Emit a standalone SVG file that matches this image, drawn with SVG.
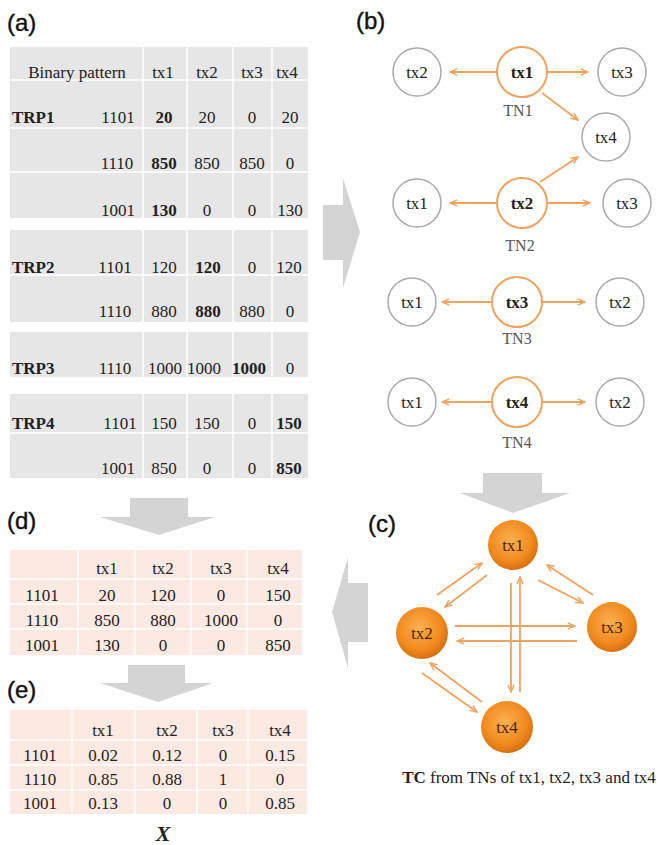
<svg xmlns="http://www.w3.org/2000/svg" width="660" height="845" viewBox="0 0 660 845">
<style>
.lbl{font-family:"Liberation Sans",Arial,sans-serif;font-size:24px;fill:#111;stroke:#111;stroke-width:0.4}
.t{font-family:"Liberation Serif","Times New Roman",serif;font-size:17px;fill:#222;text-anchor:middle}
.tl{font-family:"Liberation Serif","Times New Roman",serif;font-size:17px;fill:#222;font-weight:bold}
.b{font-weight:bold}
.bga{fill:#e6e6e6}
.bgp{fill:#fbe9e2}
.sep{stroke:#fff;stroke-width:1.5}
.garrow{fill:#d4d4d4}
.oc{fill:#fff;stroke:#aaa;stroke-width:1.5}
.cc{fill:#fff;stroke:#f0a35e;stroke-width:2}
.tn{font-family:"Liberation Serif","Times New Roman",serif;font-size:16px;fill:#555;text-anchor:middle}
.con{stroke:#f0a35e;stroke-width:1.8;fill:none;marker-end:url(#ah)}
.fc{fill:url(#og)}
.ft{font-family:"Liberation Serif","Times New Roman",serif;font-size:17px;fill:#4a2608;text-anchor:middle}
</style>
<defs>
<marker id="ah" viewBox="0 0 10 10" refX="9" refY="5" markerWidth="9" markerHeight="9" markerUnits="userSpaceOnUse" orient="auto">
<path d="M1,1.5 L9,5 L1,8.5" fill="none" stroke="#f0a35e" stroke-width="1.6"/>
</marker>
<radialGradient id="og" cx="0.45" cy="0.4" r="0.6">
<stop offset="0" stop-color="#fbb050"/>
<stop offset="0.7" stop-color="#f18a1e"/>
<stop offset="1" stop-color="#d8700e"/>
</radialGradient>
</defs>
<rect width="660" height="845" fill="#fff"/>

<!-- panel labels -->
<text class="lbl" x="7" y="31">(a)</text>
<text class="lbl" x="356" y="29">(b)</text>
<text class="lbl" x="368" y="532">(c)</text>
<text class="lbl" x="7" y="529">(d)</text>
<text class="lbl" x="7" y="698">(e)</text>

<!-- gray block arrows -->
<g id="block-arrows">
<polygon class="garrow" points="323,205 343,205 343,178 360,232 343,288 343,260 323,260"/>
<polygon class="garrow" points="483,473 542,473 542,493 570,493 513,513 460,493 483,493"/>
<polygon class="garrow" points="368,583 348,583 348,557 332,612 348,668 348,642 368,642"/>
<polygon class="garrow" points="130,498 188,498 188,517 215,517 159,535 100,517 130,517"/>
<polygon class="garrow" points="128,665 185,665 185,683 213,683 158,702 100,683 128,683"/>
</g>

<!-- table (a) -->
<g id="table-a">
<rect class="bga" x="10" y="47" width="298" height="171"/>
<rect class="bga" x="10" y="230" width="298" height="92"/>
<rect class="bga" x="10" y="332" width="298" height="45"/>
<rect class="bga" x="10" y="394" width="298" height="84"/>
<g class="sep">
<line x1="10" y1="80" x2="308" y2="80"/>
<line x1="10" y1="128" x2="308" y2="128"/>
<line x1="10" y1="172" x2="308" y2="172"/>
<line x1="10" y1="275" x2="308" y2="275"/>
<line x1="10" y1="433" x2="308" y2="433"/>
<line x1="143" y1="47" x2="143" y2="478"/>
<line x1="187" y1="47" x2="187" y2="478"/>
<line x1="233" y1="47" x2="233" y2="478"/>
<line x1="272" y1="47" x2="272" y2="478"/>
</g>
<text class="t" x="77" y="78">Binary pattern</text>
<text class="t" x="163" y="78">tx1</text>
<text class="t" x="207" y="78">tx2</text>
<text class="t" x="252" y="78">tx3</text>
<text class="t" x="287" y="78">tx4</text>

<text class="tl" x="12" y="123">TRP1</text>
<text class="t" x="118" y="123">1101</text>
<text class="t b" x="164" y="123">20</text>
<text class="t" x="207" y="123">20</text>
<text class="t" x="252" y="123">0</text>
<text class="t" x="290" y="123">20</text>

<text class="t" x="117" y="169">1110</text>
<text class="t b" x="164" y="169">850</text>
<text class="t" x="207" y="169">850</text>
<text class="t" x="252" y="169">850</text>
<text class="t" x="290" y="169">0</text>

<text class="t" x="118" y="216">1001</text>
<text class="t b" x="164" y="216">130</text>
<text class="t" x="207" y="216">0</text>
<text class="t" x="252" y="216">0</text>
<text class="t" x="290" y="216">130</text>

<text class="tl" x="12" y="273">TRP2</text>
<text class="t" x="115" y="273">1101</text>
<text class="t" x="164" y="273">120</text>
<text class="t b" x="208" y="273">120</text>
<text class="t" x="252" y="273">0</text>
<text class="t" x="289" y="273">120</text>

<text class="t" x="115" y="317">1110</text>
<text class="t" x="164" y="317">880</text>
<text class="t b" x="208" y="317">880</text>
<text class="t" x="252" y="317">880</text>
<text class="t" x="290" y="317">0</text>

<text class="tl" x="12" y="374">TRP3</text>
<text class="t" x="115" y="374">1110</text>
<text class="t" x="165" y="374">1000</text>
<text class="t" x="204" y="374">1000</text>
<text class="t b" x="249" y="374">1000</text>
<text class="t" x="290" y="374">0</text>

<text class="tl" x="12" y="429">TRP4</text>
<text class="t" x="120" y="429">1101</text>
<text class="t" x="164" y="429">150</text>
<text class="t" x="207" y="429">150</text>
<text class="t" x="252" y="429">0</text>
<text class="t b" x="289" y="429">150</text>

<text class="t" x="118" y="474">1001</text>
<text class="t" x="164" y="474">850</text>
<text class="t" x="207" y="474">0</text>
<text class="t" x="252" y="474">0</text>
<text class="t b" x="289" y="474">850</text>
</g>

<!-- panel (b) nodes -->
<g id="tn1">
<circle class="oc" cx="417" cy="72" r="24"/><text class="t" x="417" y="78">tx2</text>
<circle class="cc" cx="522" cy="72" r="25"/><text class="t b" x="522" y="78">tx1</text>
<circle class="oc" cx="622" cy="72" r="24"/><text class="t" x="622" y="78">tx3</text>
<circle class="oc" cx="606" cy="137" r="24"/><text class="t" x="606" y="143">tx4</text>
<text class="tn" x="518" y="116">TN1</text>
</g>
<g id="tn2">
<circle class="oc" cx="417" cy="203" r="24"/><text class="t" x="417" y="209">tx1</text>
<circle class="cc" cx="522" cy="203" r="25"/><text class="t b" x="522" y="209">tx2</text>
<circle class="oc" cx="627" cy="203" r="24"/><text class="t" x="627" y="209">tx3</text>
<text class="tn" x="520" y="251">TN2</text>
</g>
<g id="tn3">
<circle class="oc" cx="412" cy="302" r="24"/><text class="t" x="412" y="308">tx1</text>
<circle class="cc" cx="517" cy="302" r="25"/><text class="t b" x="517" y="308">tx3</text>
<circle class="oc" cx="620" cy="302" r="24"/><text class="t" x="620" y="308">tx2</text>
<text class="tn" x="517" y="344">TN3</text>
</g>
<g id="tn4">
<circle class="oc" cx="412" cy="402" r="24"/><text class="t" x="412" y="408">tx1</text>
<circle class="cc" cx="517" cy="402" r="25"/><text class="t b" x="517" y="408">tx4</text>
<circle class="oc" cx="620" cy="402" r="24"/><text class="t" x="620" y="408">tx2</text>
<text class="tn" x="517" y="448">TN4</text>
</g>

<!-- panel (c) nodes -->
<g id="c-tx1"><circle class="fc" cx="513" cy="545" r="25"/><text class="ft" x="513" y="551">tx1</text></g>
<g id="c-tx2"><circle class="fc" cx="422" cy="633" r="26"/><text class="ft" x="422" y="639">tx2</text></g>
<g id="c-tx3"><circle class="fc" cx="612" cy="627" r="25"/><text class="ft" x="612" y="633">tx3</text></g>
<g id="c-tx4"><circle class="fc" cx="507" cy="727" r="26"/><text class="ft" x="507" y="733">tx4</text></g>
<text class="t" x="529" y="783"><tspan class="b">TC</tspan> from TNs of tx1, tx2, tx3 and tx4</text>

<!-- connectors -->
<g id="connectors">
<line class="con" x1="497" y1="72" x2="450" y2="72"/>
<line class="con" x1="547" y1="72" x2="588" y2="72"/>
<line class="con" x1="542" y1="93" x2="578" y2="120"/>
<line class="con" x1="497" y1="203" x2="450" y2="203"/>
<line class="con" x1="547" y1="203" x2="590" y2="203"/>
<line class="con" x1="540" y1="182" x2="578" y2="157"/>
<line class="con" x1="492" y1="302" x2="442" y2="302"/>
<line class="con" x1="542" y1="302" x2="585" y2="302"/>
<line class="con" x1="492" y1="402" x2="442" y2="402"/>
<line class="con" x1="542" y1="402" x2="585" y2="402"/>

<line class="con" x1="437" y1="595" x2="482" y2="563"/>
<line class="con" x1="487" y1="575" x2="445" y2="607"/>
<line class="con" x1="538" y1="580" x2="583" y2="603"/>
<line class="con" x1="593" y1="595" x2="547" y2="565"/>
<line class="con" x1="455" y1="626" x2="575" y2="626"/>
<line class="con" x1="577" y1="641" x2="457" y2="641"/>
<line class="con" x1="511" y1="583" x2="511" y2="692"/>
<line class="con" x1="520" y1="692" x2="520" y2="577"/>
<line class="con" x1="482" y1="702" x2="430" y2="663"/>
<line class="con" x1="422" y1="673" x2="477" y2="712"/>
</g>

<!-- table (d) -->
<g id="table-d">
<rect class="bgp" x="10" y="550" width="292" height="105"/>
<g class="sep">
<line x1="10" y1="579" x2="302" y2="579"/>
<line x1="10" y1="604" x2="302" y2="604"/>
<line x1="10" y1="629" x2="302" y2="629"/>
<line x1="78" y1="550" x2="78" y2="655"/>
<line x1="135" y1="550" x2="135" y2="655"/>
<line x1="191" y1="550" x2="191" y2="655"/>
<line x1="247" y1="550" x2="247" y2="655"/>
</g>
<text class="t" x="107" y="574">tx1</text>
<text class="t" x="163" y="574">tx2</text>
<text class="t" x="221" y="574">tx3</text>
<text class="t" x="278" y="574">tx4</text>
<text class="t" x="42" y="601">1101</text>
<text class="t" x="107" y="601">20</text>
<text class="t" x="163" y="601">120</text>
<text class="t" x="221" y="601">0</text>
<text class="t" x="278" y="601">150</text>
<text class="t" x="42" y="626">1110</text>
<text class="t" x="107" y="626">850</text>
<text class="t" x="163" y="626">880</text>
<text class="t" x="221" y="626">1000</text>
<text class="t" x="278" y="626">0</text>
<text class="t" x="42" y="651">1001</text>
<text class="t" x="107" y="651">130</text>
<text class="t" x="163" y="651">0</text>
<text class="t" x="221" y="651">0</text>
<text class="t" x="278" y="651">850</text>
</g>

<!-- table (e) -->
<g id="table-e">
<rect class="bgp" x="10" y="710" width="297" height="104"/>
<g class="sep">
<line x1="10" y1="740" x2="307" y2="740"/>
<line x1="10" y1="765" x2="307" y2="765"/>
<line x1="10" y1="790" x2="307" y2="790"/>
<line x1="72" y1="710" x2="72" y2="814"/>
<line x1="135" y1="710" x2="135" y2="814"/>
<line x1="197" y1="710" x2="197" y2="814"/>
<line x1="248" y1="710" x2="248" y2="814"/>
</g>
<text class="t" x="103" y="736">tx1</text>
<text class="t" x="167" y="736">tx2</text>
<text class="t" x="223" y="736">tx3</text>
<text class="t" x="280" y="736">tx4</text>
<text class="t" x="40" y="761">1101</text>
<text class="t" x="103" y="761">0.02</text>
<text class="t" x="167" y="761">0.12</text>
<text class="t" x="223" y="761">0</text>
<text class="t" x="280" y="761">0.15</text>
<text class="t" x="40" y="785">1110</text>
<text class="t" x="103" y="785">0.85</text>
<text class="t" x="167" y="785">0.88</text>
<text class="t" x="223" y="785">1</text>
<text class="t" x="280" y="785">0</text>
<text class="t" x="40" y="809">1001</text>
<text class="t" x="103" y="809">0.13</text>
<text class="t" x="167" y="809">0</text>
<text class="t" x="223" y="809">0</text>
<text class="t" x="280" y="809">0.85</text>
<text class="t" x="163" y="841" style="font-weight:bold;font-style:italic;font-size:22px">X</text>
</g>
</svg>
